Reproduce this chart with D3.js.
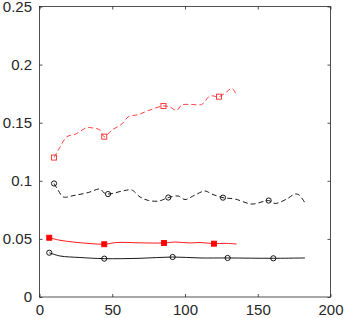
<!DOCTYPE html>
<html>
<head>
<meta charset="utf-8">
<script src="https://cdn.jsdelivr.net/npm/d3@7"></script>
<style>
  html, body { margin: 0; padding: 0; background: #fff; }
  svg { display: block; }
  .tick text { font-family: "Liberation Sans", Arial, Helvetica, sans-serif; font-size: 15px; fill: #262626; }
</style>
</head>
<body>
<svg id="chart" width="345" height="318"></svg>
<script>
// ---- tick values / labels ----
const xTicks = [0, 50, 100, 150, 200];
const xTickLabels = ["0", "50", "100", "150", "200"];
const yTicks = [0, 0.05, 0.1, 0.15, 0.2, 0.25];
const yTickLabels = ["0", "0.05", "0.1", "0.15", "0.2", "0.25"];

// ---- red dashed series (open squares) ----
const redDashX = [10, 14.1, 18.9, 24.4, 32.6, 36.8, 41.6, 44.5, 49.8, 56.7, 61, 67.9, 76, 85.2, 89.7, 94.3, 97.7, 104, 111.5, 117.2, 123.4, 128.7, 132.3, 135.5];
const redDashY = [0.120, 0.129, 0.138, 0.140, 0.1457, 0.1454, 0.1437, 0.138, 0.1437, 0.149, 0.155, 0.157, 0.161, 0.1644, 0.1635, 0.1605, 0.1652, 0.1657, 0.1658, 0.173, 0.1724, 0.1767, 0.1796, 0.1732];
const redDashMarkX = [10, 44.5, 85.2, 123.4];
const redDashMarkY = [0.120, 0.138, 0.1644, 0.1724];

// ---- black dashed series (open circles) ----
const blackDashX = [10, 12.7, 16.4, 23.7, 33.5, 41.6, 44.5, 47.1, 58.1, 63.4, 69.1, 74.8, 82.1, 88.5, 95.4, 100, 106.9, 113.7, 118.4, 126.1, 134.4, 146, 157.5, 161.9, 169.9, 175.6, 178.4, 182.5];
const blackDashY = [0.0977, 0.0921, 0.0861, 0.0874, 0.0899, 0.0929, 0.0895, 0.0886, 0.0915, 0.0921, 0.0861, 0.0831, 0.0826, 0.0856, 0.0869, 0.0839, 0.0878, 0.0912, 0.0886, 0.0855, 0.0843, 0.0800, 0.0830, 0.0805, 0.0843, 0.0886, 0.0878, 0.0809];
const blackDashMarkX = [10, 47.1, 88.5, 126.1, 157.5];
const blackDashMarkY = [0.0977, 0.0886, 0.0856, 0.0855, 0.0830];

// ---- red solid series (filled squares) ----
const redSolidX = [6.7, 14.1, 23.2, 34.7, 44.5, 53.1, 69.1, 85.6, 93.1, 103.4, 110.3, 119.9, 127.5, 135.5];
const redSolidY = [0.0510, 0.0488, 0.0473, 0.0460, 0.0454, 0.0469, 0.0466, 0.0465, 0.0473, 0.0465, 0.0469, 0.0459, 0.0462, 0.0456];
const redSolidMarkX = [6.7, 44.5, 85.6, 119.9];
const redSolidMarkY = [0.0510, 0.0454, 0.0465, 0.0459];

// ---- black solid series (open circles) ----
const blackSolidX = [6.7, 14.1, 27.8, 44.5, 69.1, 91.5, 110.3, 129.3, 160.7, 182.5];
const blackSolidY = [0.0381, 0.0353, 0.0340, 0.0330, 0.0333, 0.0344, 0.0336, 0.0336, 0.0333, 0.0336];
const blackSolidMarkX = [6.7, 44.5, 91.5, 129.3, 160.7];
const blackSolidMarkY = [0.0381, 0.0330, 0.0344, 0.0336, 0.0333];

// ---- layout ----
const svg = d3.select("#chart");
const mLeft = 39.5, mRight = 330.5, mTop = 6.5, mBottom = 297;
const x = d3.scaleLinear().domain([0, 200]).range([mLeft, mRight]);
const y = d3.scaleLinear().domain([0, 0.25]).range([mBottom, mTop]);
const axisColor = "#262626";

const zip = (xs, ys) => xs.map((v, i) => [v, ys[i]]);
const line = d3.line().x(d => x(d[0])).y(d => y(d[1])).curve(d3.curveCatmullRom.alpha(0.5));

const series = [
  { xs: redDashX, ys: redDashY, mx: redDashMarkX, my: redDashMarkY, color: "#ff2a2a", dash: "5,3", marker: "square", fill: "none" },
  { xs: blackDashX, ys: blackDashY, mx: blackDashMarkX, my: blackDashMarkY, color: "#000000", dash: "5,3", marker: "circle", fill: "none" },
  { xs: redSolidX, ys: redSolidY, mx: redSolidMarkX, my: redSolidMarkY, color: "#ff0000", dash: null, marker: "square", fill: "#ff0000" },
  { xs: blackSolidX, ys: blackSolidY, mx: blackSolidMarkX, my: blackSolidMarkY, color: "#000000", dash: null, marker: "circle", fill: "none" }
];

const g = svg.append("g");
series.forEach(s => {
  g.append("path")
    .attr("d", line(zip(s.xs, s.ys)))
    .attr("fill", "none")
    .attr("stroke", s.color)
    .attr("stroke-width", 0.9)
    .attr("stroke-dasharray", s.dash);
  const pts = zip(s.mx, s.my);
  if (s.marker === "square") {
    g.selectAll(null).data(pts).enter().append("rect")
      .attr("x", d => x(d[0]) - 2.5).attr("y", d => y(d[1]) - 2.5)
      .attr("width", 5).attr("height", 5)
      .attr("fill", s.fill).attr("stroke", s.color).attr("stroke-width", 0.9);
  } else {
    g.selectAll(null).data(pts).enter().append("circle")
      .attr("cx", d => x(d[0])).attr("cy", d => y(d[1])).attr("r", 2.6)
      .attr("fill", "none").attr("stroke", s.color).attr("stroke-width", 0.9);
  }
});

// ---- axes (ticks pointing inward, mirrored) ----
const tick = 3;
const xAxis = svg.append("g").attr("transform", `translate(0,${mBottom})`)
  .call(d3.axisBottom(x).tickValues(xTicks).tickFormat((d, i) => xTickLabels[i]).tickSizeInner(-tick).tickSizeOuter(0).tickPadding(7.5));
const xTop = svg.append("g").attr("transform", `translate(0,${mTop})`)
  .call(d3.axisTop(x).tickValues(xTicks).tickFormat("").tickSizeInner(-tick).tickSizeOuter(0));
const yAxis = svg.append("g").attr("transform", `translate(${mLeft},0)`)
  .call(d3.axisLeft(y).tickValues(yTicks).tickFormat((d, i) => yTickLabels[i]).tickSizeInner(-tick).tickSizeOuter(0).tickPadding(7.5));
const yRight = svg.append("g").attr("transform", `translate(${mRight},0)`)
  .call(d3.axisRight(y).tickValues(yTicks).tickFormat("").tickSizeInner(-tick).tickSizeOuter(0));

[xAxis, xTop, yAxis, yRight].forEach(a => {
  a.select(".domain").remove();
  a.selectAll(".tick line").attr("stroke", axisColor).attr("stroke-width", 0.8);
  a.attr("font-family", null).attr("font-size", null);
});

svg.append("rect")
  .attr("x", mLeft).attr("y", mTop)
  .attr("width", mRight - mLeft).attr("height", mBottom - mTop)
  .attr("fill", "none").attr("stroke", axisColor).attr("stroke-width", 0.8);
</script>
</body>
</html>
